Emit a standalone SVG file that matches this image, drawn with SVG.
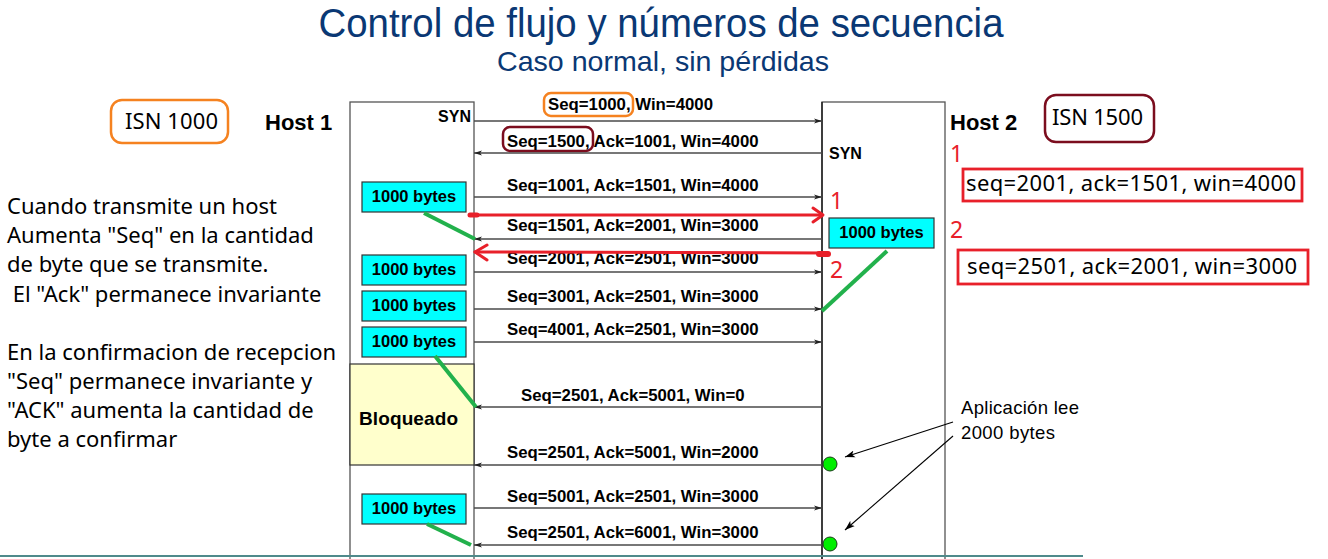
<svg xmlns="http://www.w3.org/2000/svg" width="1328" height="559" viewBox="0 0 1328 559">
  <style>
    .bg { fill: #ffffff; }
    .title { font-family: "Liberation Sans", Arial, sans-serif; fill: #0a3874; }
    .lbl { font-family: "Liberation Sans", Arial, sans-serif; font-weight: bold; font-size: 16.8px; fill: #000; }
    .host { font-family: "Liberation Sans", Arial, sans-serif; font-weight: bold; font-size: 22px; fill: #000; }
    .syn { font-family: "Liberation Sans", Arial, sans-serif; font-weight: bold; font-size: 16px; fill: #000; }
    .note { font-family: "Noto Sans", "Open Sans", sans-serif; font-size: 22px; fill: #000; }
    .num { font-family: "Noto Sans", "Open Sans", sans-serif; font-size: 23px; fill: #e8202a; }
    .app { font-family: "Liberation Sans", Arial, sans-serif; font-size: 18.5px; fill: #000; }
    .col { fill: #ffffff; stroke: #555555; stroke-width: 1.3; }
    .buf { fill: #00ffff; stroke: #333333; stroke-width: 1.2; }
    .bytes { font-family: "Liberation Sans", Arial, sans-serif; font-weight: bold; font-size: 16.5px; fill: #000; text-anchor: middle; }
    .msg { stroke: #4a4a4a; stroke-width: 1.3; fill: none; marker-end: url(#ah); }
    .red { stroke: #e8202a; stroke-width: 3; fill: none; stroke-linecap: round; stroke-linejoin: round; }
    .green { stroke: #22b14c; stroke-width: 4; fill: none; stroke-linecap: butt; }
    .rbox { fill: none; stroke: #e8202a; stroke-width: 2.8; }
    .orange { fill: none; stroke: #f58220; stroke-width: 2.5; }
    .maroon { fill: none; stroke: #7b0d1e; stroke-width: 2.5; }
    .dot { fill: #00ee00; stroke: #1a3a1a; stroke-width: 1; }
    .pointer { stroke: #000; stroke-width: 1.1; fill: none; marker-end: url(#ptr); }
  </style>
  <defs>
    <marker id="ah" viewBox="0 0 8 6" refX="8" refY="3" markerWidth="8" markerHeight="6" markerUnits="userSpaceOnUse" orient="auto">
      <path d="M0,0.5 L8,3 L0,5.5 L2,3 z" fill="#222"/>
    </marker>
    <marker id="ptr" viewBox="0 0 10 8" refX="10" refY="4" markerWidth="10" markerHeight="8" markerUnits="userSpaceOnUse" orient="auto">
      <path d="M0,0.5 L10,4 L0,7.5 L2.5,4 z" fill="#000"/>
    </marker>
  </defs>

  <rect class="bg" x="0" y="0" width="1328" height="559"/>

  <!-- Heading -->
  <g id="title">
    <text class="title" x="661" y="37" font-size="40" text-anchor="middle" textLength="685" lengthAdjust="spacingAndGlyphs">Control de flujo y números de secuencia</text>
    <text class="title" x="663" y="71" font-size="27.5" text-anchor="middle" textLength="332" lengthAdjust="spacingAndGlyphs">Caso normal, sin pérdidas</text>
  </g>

  <!-- Host 1 timeline column -->
  <g id="host1">
    <rect class="col" x="350" y="102" width="124" height="470"/>
    <rect x="350" y="364" width="124" height="101" fill="#ffffcc" stroke="#333" stroke-width="1.2"/>
    <text class="host" x="265" y="130">Host 1</text>
    <text class="syn" x="471" y="122" text-anchor="end">SYN</text>
    <text x="359" y="425" font-family="Liberation Sans, Arial, sans-serif" font-weight="bold" font-size="19" textLength="99">Bloqueado</text>
  </g>

  <!-- Host 2 timeline column -->
  <g id="host2">
    <rect class="col" x="822" y="102" width="123" height="470"/>
    <line x1="822" y1="102" x2="822" y2="559" stroke="#111" stroke-width="1.3"/>
    <text class="host" x="950" y="130">Host 2</text>
    <text class="syn" x="829" y="159">SYN</text>
  </g>

  <!-- Initial sequence numbers -->
  <g id="isn1">
    <rect class="orange" x="111" y="100" width="117" height="43" rx="11"/>
    <text class="note" x="125" y="129" textLength="93">ISN 1000</text>
  </g>
  <g id="isn2">
    <rect class="maroon" x="1045" y="95" width="109" height="47" rx="11"/>
    <text class="note" x="1052" y="125" textLength="91">ISN 1500</text>
  </g>

  <!-- Send buffers -->
  <g id="buf1"><rect class="buf" x="362" y="182" width="104" height="30"/><text class="bytes" x="414" y="202">1000 bytes</text></g>
  <g id="buf2"><rect class="buf" x="362" y="255" width="104" height="30"/><text class="bytes" x="414" y="275">1000 bytes</text></g>
  <g id="buf3"><rect class="buf" x="362" y="291" width="104" height="30"/><text class="bytes" x="414" y="311">1000 bytes</text></g>
  <g id="buf4"><rect class="buf" x="362" y="327" width="104" height="30"/><text class="bytes" x="414" y="347">1000 bytes</text></g>
  <g id="buf5"><rect class="buf" x="362" y="494" width="104" height="30"/><text class="bytes" x="414" y="514">1000 bytes</text></g>
  <g id="buf6"><rect class="buf" x="829" y="218" width="105" height="30"/><text class="bytes" x="881.5" y="238">1000 bytes</text></g>

  <!-- Explanatory notes -->
  <g id="notes">
    <text class="note" x="7" y="214" textLength="270">Cuando transmite un host</text>
    <text class="note" x="7" y="243">Aumenta "Seq" en la cantidad</text>
    <text class="note" x="7" y="272">de byte que se transmite.</text>
    <text class="note" x="7" y="302" xml:space="preserve"> El "Ack" permanece invariante</text>
    <text class="note" x="7" y="360">En la confirmacion de recepcion</text>
    <text class="note" x="7" y="389">"Seq" permanece invariante y</text>
    <text class="note" x="7" y="418">"ACK" aumenta la cantidad de</text>
    <text class="note" x="7" y="447">byte a confirmar</text>
  </g>

  <!-- Receiver-side values -->
  <g id="calc1">
    <text class="num" x="950" y="162" font-size="21">1</text>
    <rect class="rbox" x="963" y="169" width="339" height="32"/>
    <text class="note" x="966" y="191" font-size="23" textLength="330">seq=2001, ack=1501, win=4000</text>
  </g>
  <g id="calc2">
    <text class="num" x="950" y="238" font-size="21">2</text>
    <rect class="rbox" x="958" y="250" width="350" height="34"/>
    <text class="note" x="967" y="274" font-size="23" textLength="330">seq=2501, ack=2001, win=3000</text>
  </g>

  <!-- Application read note -->
  <g id="appnote">
    <text class="app" x="961" y="414" textLength="118">Aplicación lee</text>
    <text class="app" x="961" y="439" textLength="94">2000 bytes</text>
    <circle class="dot" cx="830" cy="464" r="7"/>
    <circle class="dot" cx="830" cy="544" r="7"/>
  </g>

  <!-- Segment labels -->
  <g id="labels">
    <rect class="orange" x="544" y="93" width="89" height="23" rx="7"/>
    <text class="lbl" x="548" y="110">Seq=1000, Win=4000</text>
    <rect class="maroon" x="503" y="127" width="90" height="24" rx="7"/>
    <text class="lbl" x="507" y="147">Seq=1500, Ack=1001, Win=4000</text>
    <text class="lbl" x="507" y="191">Seq=1001, Ack=1501, Win=4000</text>
    <text class="lbl" x="507" y="231">Seq=1501, Ack=2001, Win=3000</text>
    <text class="lbl" x="507" y="264">Seq=2001, Ack=2501, Win=3000</text>
    <text class="lbl" x="507" y="302">Seq=3001, Ack=2501, Win=3000</text>
    <text class="lbl" x="507" y="335">Seq=4001, Ack=2501, Win=3000</text>
    <text class="lbl" x="521" y="401">Seq=2501, Ack=5001, Win=0</text>
    <text class="lbl" x="507" y="458">Seq=2501, Ack=5001, Win=2000</text>
    <text class="lbl" x="507" y="502">Seq=5001, Ack=2501, Win=3000</text>
    <text class="lbl" x="507" y="538">Seq=2501, Ack=6001, Win=3000</text>
  </g>

  <!-- Connectors -->
  <g id="connectors">
    <line class="msg" x1="474" y1="121" x2="822" y2="121"/>
    <line class="msg" x1="822" y1="153" x2="474" y2="153"/>
    <line class="msg" x1="474" y1="197" x2="822" y2="197"/>
    <line class="msg" x1="822" y1="239" x2="474" y2="239"/>
    <line class="msg" x1="474" y1="272" x2="822" y2="272"/>
    <line class="msg" x1="474" y1="309" x2="822" y2="309"/>
    <line class="msg" x1="474" y1="342" x2="822" y2="342"/>
    <line class="msg" x1="822" y1="407" x2="474" y2="407"/>
    <line class="msg" x1="822" y1="465" x2="474" y2="465"/>
    <line class="msg" x1="474" y1="508" x2="822" y2="508"/>
    <line class="msg" x1="822" y1="545" x2="474" y2="545"/>

    <!-- buffer hand-off strokes -->
    <line class="green" x1="424" y1="213" x2="475" y2="239"/>
    <line class="green" x1="435" y1="356" x2="476" y2="407"/>
    <line class="green" x1="427" y1="524" x2="471" y2="545"/>
    <line class="green" x1="887" y1="251" x2="822" y2="311"/>

    <!-- highlighted exchanges -->
    <line class="red" x1="470" y1="215" x2="822" y2="215"/>
    <line x1="470" y1="215" x2="477" y2="215" stroke="#e8202a" stroke-width="5" stroke-linecap="round"/>
    <polyline class="red" points="813,208 823,215 813,222"/>
    <text class="num" x="830" y="209">1</text>
    <line class="red" x1="828" y1="253" x2="475" y2="252"/>
    <line x1="819" y1="254" x2="828" y2="254" stroke="#e8202a" stroke-width="6" stroke-linecap="round"/>
    <polyline class="red" points="487,245 475,252 487,260"/>
    <text class="num" x="830" y="278">2</text>

    <!-- read pointers -->
    <line class="pointer" x1="953" y1="422" x2="845" y2="457"/>
    <line class="pointer" x1="953" y1="436" x2="845" y2="530"/>
  </g>

  <!-- footer rule -->
  <line x1="0" y1="556" x2="1083" y2="556" stroke="#4f8a8b" stroke-width="2"/>
</svg>
